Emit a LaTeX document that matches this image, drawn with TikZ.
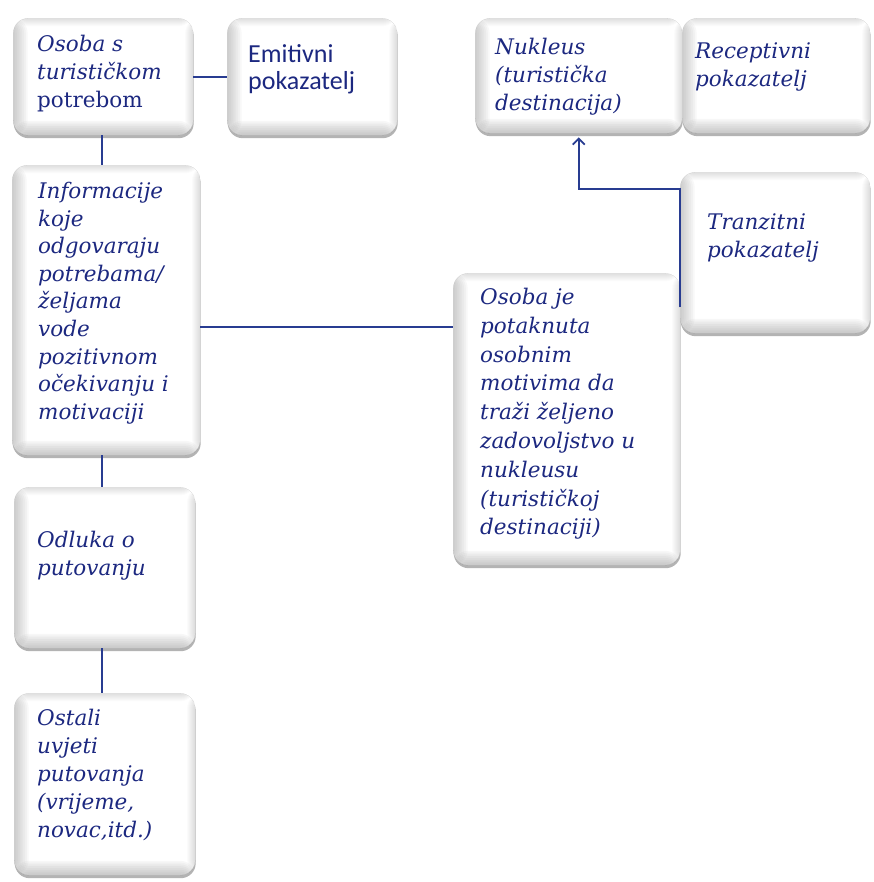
\documentclass[tikz,border=0pt]{standalone}
\usepackage{fontspec}
\usetikzlibrary{positioning,calc,shadows,arrows.meta}
\newfontfamily\serifit{DejaVu Serif}
\newfontfamily\sanslbl{Carlito}
\definecolor{navy}{RGB}{28,40,128}
\definecolor{linkblue}{RGB}{40,60,145}
\tikzset{
  box/.style={rectangle, rounded corners=15pt, anchor=north west, inner sep=0pt,
    fill=white,
    drop shadow={shadow xshift=0.5pt, shadow yshift=-3pt, fill=gray!80, opacity=0.75},
    path picture={
      \foreach \i in {1,...,8} {
        \fill[gray, opacity=0.055] (path picture bounding box.south west)
          rectangle ([xshift=\i*1.8pt]path picture bounding box.north west);
        \fill[gray, opacity=0.06] (path picture bounding box.south west)
          rectangle ([yshift=\i*1.8pt]path picture bounding box.south east);
        \fill[gray, opacity=0.03] ([yshift=-\i*1pt]path picture bounding box.north west)
          rectangle (path picture bounding box.north east);
        \fill[gray, opacity=0.03] ([xshift=-\i*1pt]path picture bounding box.south east)
          rectangle (path picture bounding box.north east);
      }
    }},
  lbl/.style={anchor=north west, align=left, inner sep=0pt, text=navy,
    font=\serifit\itshape\fontsize{21.5}{28}\selectfont,
    execute at begin node=\strut},
  conn/.style={draw=linkblue, line width=1.8pt},
}
\begin{document}
\begin{tikzpicture}[x=1pt,y=1pt]
\useasboundingbox (0,0) rectangle (873,-882);

% boxes
\node[box, minimum width=180, minimum height=117] (osoba) at (13,-18) {};
\node[box, minimum width=170, minimum height=117] (emit)  at (227,-18) {};
\node[box, minimum width=188, minimum height=290] (info)  at (12,-165) {};
\node[box, minimum width=181, minimum height=161] (odl)   at (14,-487) {};
\node[box, minimum width=181, minimum height=182] (ost)   at (14,-693) {};
\node[box, minimum width=207, minimum height=115] (nuk)   at (475,-18) {};
\node[box, minimum width=188, minimum height=115] (rec)   at (682,-18) {};
\node[box, minimum width=227, minimum height=292] (pot)   at (453,-273) {};
\node[box, minimum width=190, minimum height=161] (tran)  at (680,-172) {};

% texts (strut top = baseline - 0.7 baselineskip)
\node[lbl] (osoba-t) at ($(osoba.north west)+(24,-17)$) {Osoba s\\turističkom\\\upshape potrebom};
\node[lbl, font=\sanslbl\fontsize{26}{27}\selectfont] (emit-t) at ($(emit.north west)+(21,-26)$) {Emitivni\\pokazatelj};
\node[lbl, font=\serifit\itshape\fontsize{21.5}{27.6}\selectfont] (info-t) at ($(info.north west)+(26,-17)$) {Informacije\\koje\\odgovaraju\\potrebama/\\željama\\vode\\pozitivnom\\očekivanju i\\motivaciji};
\node[lbl] (odl-t) at ($(odl.north west)+(23,-44)$) {Odluka o\\putovanju};
\node[lbl] (ost-t) at ($(ost.north west)+(23,-16)$) {Ostali\\uvjeti\\putovanja\\(vrijeme,\\novac,itd.)};
\node[lbl] (nuk-t) at ($(nuk.north west)+(20,-20)$) {Nukleus\\(turistička\\destinacija)};
\node[lbl] (rec-t) at ($(rec.north west)+(13,-24)$) {Receptivni\\pokazatelj};
\node[lbl, font=\serifit\itshape\fontsize{21.5}{28.8}\selectfont] (pot-t) at ($(pot.north west)+(27,-15)$) {Osoba je\\potaknuta\\osobnim\\motivima da\\traži željeno\\zadovoljstvo u\\nukleusu\\(turističkoj\\destinaciji)};
\node[lbl] (tran-t) at ($(tran.north west)+(27,-41)$) {Tranzitni\\pokazatelj};

% connectors
\draw[conn] (osoba.east) -- (emit.west);
\draw[conn] ([xshift=-1]osoba.south) -- ([xshift=-1]osoba.south |- info.north);
\draw[conn] ([yshift=-17]info.east) -- ([yshift=-17]info.east -| pot.west);
\draw[conn] ([xshift=-1]osoba.south |- info.south) -- ([xshift=-1]osoba.south |- odl.north);
\draw[conn] ([xshift=-1]osoba.south |- odl.south) -- ([xshift=-1]osoba.south |- ost.north);
\coordinate (tran-in) at ($(tran.south west)+(0,26)$);
\coordinate (tran-bend) at ($(tran.north west)+(0,-17)$);
\draw[conn,-{Straight Barb[length=6pt,width=12pt]}] (tran-in) -- (tran-bend) -| ([yshift=-4]nuk.south);

\end{tikzpicture}
\end{document}
